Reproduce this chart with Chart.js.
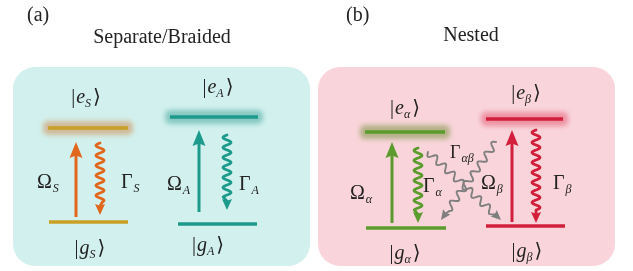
<!DOCTYPE html>
<html>
<head>
<meta charset="utf-8">
<script src="https://cdn.jsdelivr.net/npm/chart.js@4.4.1/dist/chart.umd.min.js"></script>
<style>
  html, body { margin: 0; padding: 0; background: #fff; }
  #wrap { width: 633px; height: 271px; }
</style>
</head>
<body>
<div id="wrap"><canvas id="diagram"></canvas></div>
<script>
// diagram units: x 0..633 left->right, y 0..271 top->bottom

const panelNames = ['a', 'b'];
const panelTitles = ['Separate/Braided', 'Nested'];
const panelX0 = [13, 318];
const panelX1 = [310, 615];
const panelY0 = [67, 67];
const panelY1 = [266, 266];

// energy levels
const levelNames = ['e_S', 'g_S', 'e_A', 'g_A', 'e_α', 'g_α', 'e_β', 'g_β'];
const levelX0 = [48, 49, 170, 178, 365, 366, 486, 486];
const levelX1 = [128, 128, 258, 257, 445, 446, 563, 565];
const levelY = [128, 222, 117, 224, 132, 228, 119, 226];

// drive (straight) arrows Ω
const driveNames = ['Ω_S', 'Ω_A', 'Ω_α', 'Ω_β'];
const driveX = [76, 199, 392, 512];
const driveFrom = [217, 212, 223, 222];
const driveTo = [142, 130, 142, 130];

// decay (wavy) arrows Γ
const decayNames = ['Γ_S', 'Γ_A', 'Γ_α', 'Γ_β'];
const decayX = [100, 227, 418, 536];
const decayFrom = [143, 135, 148, 130];
const decayTo = [215, 210, 223, 223];

// cross decay Γ_αβ
const crossFromX = [428, 496];
const crossFromY = [152, 142];
const crossToX = [501, 441];
const crossToY = [220, 220];

// ket labels
const ketLetter = ['e', 'g', 'e', 'g', 'e', 'g', 'e', 'g'];
const ketSub = ['S', 'S', 'A', 'A', 'α', 'α', 'β', 'β'];
const ketX = [86, 90, 218, 208, 405, 405, 526, 527];
const ketY = [97, 248, 87, 245, 108, 253, 93, 251];

// rate labels
const rateMain = ['Ω', 'Γ', 'Ω', 'Γ', 'Ω', 'Γ', 'Ω', 'Γ', 'Γ'];
const rateSub = ['S', 'S', 'A', 'A', 'α', 'α', 'β', 'β', 'αβ'];
const rateX = [37, 121, 167, 239, 350, 423, 481, 553, 450];
const rateY = [188, 188, 190, 190, 199, 192, 189, 189, 158];

const panelFill = ['#d2f1ee', '#f9d5db'];
const sysColor = ['#c9a024', '#1c9a8b', '#5b9c2d', '#d21f3b'];
const arrowColor = ['#e0671c', '#1c9a8b', '#5b9c2d', '#d21f3b'];
const glowColor = ['rgba(205,140,80,0.55)', 'rgba(40,150,140,0.45)', 'rgba(110,140,50,0.5)', 'rgba(225,60,90,0.45)'];
const crossColor = '#7f7f7f';
const SERIF = '"Liberation Serif", "DejaVu Serif", serif';

const datasets = [];
levelNames.forEach((n, i) => {
  datasets.push({
    label: n,
    data: [{ x: levelX0[i], y: levelY[i] }, { x: levelX1[i], y: levelY[i] }],
    showLine: true,
    borderColor: sysColor[Math.floor(i / 2)],
    borderWidth: 3.5,
    borderCapStyle: 'butt',
    pointRadius: 0
  });
});
driveNames.forEach((n, i) => {
  datasets.push({
    label: n,
    data: [{ x: driveX[i], y: driveFrom[i] }, { x: driveX[i], y: driveTo[i] + 12 }],
    showLine: true,
    borderColor: arrowColor[i],
    borderWidth: 3,
    borderCapStyle: 'butt',
    pointRadius: 0
  });
});

function head(ctx, x0, y0, x1, y1, len, wid, color) {
  const a = Math.atan2(y1 - y0, x1 - x0);
  ctx.save();
  ctx.translate(x1, y1);
  ctx.rotate(a);
  ctx.fillStyle = color;
  ctx.beginPath();
  ctx.moveTo(0, 0);
  ctx.lineTo(-len, wid / 2);
  ctx.lineTo(-len * 0.85, 0);
  ctx.lineTo(-len, -wid / 2);
  ctx.closePath();
  ctx.fill();
  ctx.restore();
}

function wavy(ctx, x0, y0, x1, y1, amp, period, lw, color, hl, hw) {
  const dx = x1 - x0, dy = y1 - y0;
  const L = Math.hypot(dx, dy);
  const ux = dx / L, uy = dy / L, nx = -uy, ny = ux;
  const waveLen = L - hl - 2;
  ctx.save();
  ctx.strokeStyle = color;
  ctx.lineWidth = lw;
  ctx.lineJoin = 'round';
  ctx.lineCap = 'round';
  ctx.beginPath();
  for (let s = 0; s <= waveLen; s += 0.5) {
    const w = amp * Math.sin(2 * Math.PI * s / period);
    const px = x0 + ux * s + nx * w, py = y0 + uy * s + ny * w;
    if (s === 0) ctx.moveTo(px, py); else ctx.lineTo(px, py);
  }
  ctx.lineTo(x0 + ux * (L - hl * 0.8), y0 + uy * (L - hl * 0.8));
  ctx.stroke();
  ctx.restore();
  head(ctx, x0, y0, x1, y1, hl, hw, color);
}

function ket(ctx, cx, cy, letter, sub) {
  const main = '20px ' + SERIF, ital = 'italic 20px ' + SERIF, subF = 'italic 12px ' + SERIF;
  ctx.font = main; const wBar = ctx.measureText('|').width;
  ctx.font = ital; const wL = ctx.measureText(letter).width;
  ctx.font = subF; const wS = ctx.measureText(sub).width;
  ctx.font = main; const wB = ctx.measureText('⟩').width;
  let x = cx - (wBar + wL + wS + wB + 3) / 2;
  const base = cy + 6;
  ctx.fillStyle = '#222';
  ctx.font = main; ctx.fillText('|', x, base); x += wBar + 1;
  ctx.font = ital; ctx.fillText(letter, x, base); x += wL;
  ctx.font = subF; ctx.fillText(sub, x, base + 4); x += wS + 2;
  ctx.font = main; ctx.fillText('⟩', x, base);
}

const diagramPlugin = {
  id: 'diagram',
  beforeDatasetsDraw(chart) {
    const { ctx, scales: { x, y } } = chart;
    ctx.save();
    panelNames.forEach((n, i) => {
      const l = x.getPixelForValue(panelX0[i]), r = x.getPixelForValue(panelX1[i]);
      const t = y.getPixelForValue(panelY0[i]), b = y.getPixelForValue(panelY1[i]);
      ctx.fillStyle = panelFill[i];
      ctx.beginPath();
      ctx.roundRect(l, t, r - l, b - t, 22);
      ctx.fill();
    });
    // soft glow behind excited levels
    levelNames.forEach((n, i) => {
      if (i % 2) return;
      const s = i / 2;
      const l = x.getPixelForValue(levelX0[i]) - 5, r = x.getPixelForValue(levelX1[i]) + 5;
      const c = y.getPixelForValue(levelY[i]);
      ctx.save();
      ctx.filter = 'blur(2.5px)';
      ctx.fillStyle = glowColor[s];
      ctx.beginPath();
      ctx.roundRect(l, c - 7, r - l, 14, 5);
      ctx.fill();
      ctx.restore();
    });
    ctx.restore();
  },
  afterDatasetsDraw(chart) {
    const { ctx, scales: { x, y } } = chart;
    ctx.save();
    driveNames.forEach((n, i) => {
      const px = x.getPixelForValue(driveX[i]);
      head(ctx, px, y.getPixelForValue(driveFrom[i]), px, y.getPixelForValue(driveTo[i]), 16, 13, arrowColor[i]);
    });
    decayNames.forEach((n, i) => {
      const px = x.getPixelForValue(decayX[i]);
      wavy(ctx, px, y.getPixelForValue(decayFrom[i]), px, y.getPixelForValue(decayTo[i]),
        4, 10, 2.8, arrowColor[i], 11, 10);
    });
    crossFromX.forEach((v, i) => {
      wavy(ctx, x.getPixelForValue(v), y.getPixelForValue(crossFromY[i]),
        x.getPixelForValue(crossToX[i]), y.getPixelForValue(crossToY[i]),
        3.5, 12, 1.9, crossColor, 10, 9);
    });

    // texts
    ctx.fillStyle = '#222';
    ctx.textBaseline = 'alphabetic';
    ctx.textAlign = 'left';
    ctx.font = '20px ' + SERIF;
    ctx.fillText('(a)', x.getPixelForValue(27), y.getPixelForValue(21));
    ctx.fillText('(b)', x.getPixelForValue(346), y.getPixelForValue(21));
    ctx.textAlign = 'center';
    ctx.fillText(panelTitles[0], x.getPixelForValue(162), y.getPixelForValue(43));
    ctx.fillText(panelTitles[1], x.getPixelForValue(471), y.getPixelForValue(41));
    ctx.textAlign = 'left';

    ketLetter.forEach((l, i) => ket(ctx, x.getPixelForValue(ketX[i]), y.getPixelForValue(ketY[i]), l, ketSub[i]));

    rateMain.forEach((m, i) => {
      const px = x.getPixelForValue(rateX[i]), py = y.getPixelForValue(rateY[i]);
      const big = i === 8 ? 18 : 20;
      ctx.fillStyle = '#222';
      ctx.font = big + 'px ' + SERIF;
      ctx.fillText(m, px, py);
      const w = ctx.measureText(m).width;
      ctx.font = 'italic 12px ' + SERIF;
      ctx.fillText(rateSub[i], px + w + 1, py + 4);
    });
    ctx.restore();
  }
};

new Chart(document.getElementById('diagram'), {
  type: 'scatter',
  data: { datasets },
  options: {
    responsive: true,
    maintainAspectRatio: false,
    animation: false,
    layout: { padding: 0 },
    plugins: { legend: { display: false }, tooltip: { enabled: false } },
    scales: {
      x: { type: 'linear', min: 0, max: 633, display: false },
      y: { type: 'linear', min: 0, max: 271, reverse: true, display: false }
    }
  },
  plugins: [diagramPlugin]
});
</script>
</body>
</html>
